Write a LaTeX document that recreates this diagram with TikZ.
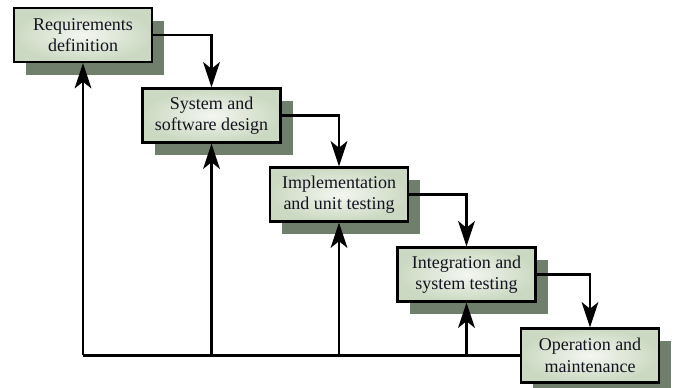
\documentclass[tikz,border=0pt]{standalone}
\usepackage{fontspec}
\setmainfont{Liberation Serif}
\usetikzlibrary{arrows.meta,shadows}
\definecolor{shadowc}{HTML}{6F7F6C}
\definecolor{boxin}{HTML}{F4F6F0}
\definecolor{boxout}{HTML}{CBD9C2}
\definecolor{txt}{HTML}{141420}
\tikzset{
  phase/.style={draw=black, line width=1.6pt, shading=radial, inner color=boxin, outer color=boxout,
    minimum width=103.5pt, minimum height=40.5pt, inner sep=0pt, align=center,
    text=txt, font=\fontsize{13.5}{16}\selectfont,
    drop shadow={shadow xshift=9pt, shadow yshift=-9.75pt, fill=shadowc, opacity=1}},
  flow/.style={line width=1.6pt, -{Stealth[length=19pt, width=12.5pt, inset=5pt]}},
  link/.style={line width=1.6pt}
}
\begin{document}
\begin{tikzpicture}[x=0.75pt, y=-0.75pt]
\useasboundingbox (0,0) rectangle (676,388);
\node[phase] (b1) at (83,35) {Requirements\\definition};
\node[phase] (b2) at (211.5,115.5) {System and\\software design};
\node[phase] (b3) at (339,194.5) {Implementation\\and unit testing};
\node[phase] (b4) at (466.5,274.5) {Integration and\\system testing};
\node[phase] (b5) at (590,355.5) {Operation and\\maintenance};
\draw[flow] (b1.east) -| (b2.north);
\draw[flow] (b2.east) -| (b3.north);
\draw[flow] (b3.east) -| (b4.north);
\draw[flow] (b4.east) -| (b5.north);
\coordinate (f1) at (b1.south |- b5.west);
\coordinate (f2) at (b2.south |- b5.west);
\coordinate (f3) at (b3.south |- b5.west);
\coordinate (f4) at (b4.south |- b5.west);
\draw[link] (b5.west) -- (f1);
\draw[flow] (f1) -- (b1.south);
\draw[flow] (f2) -- (b2.south);
\draw[flow] (f3) -- (b3.south);
\draw[flow] (f4) -- (b4.south);
\end{tikzpicture}
\end{document}
